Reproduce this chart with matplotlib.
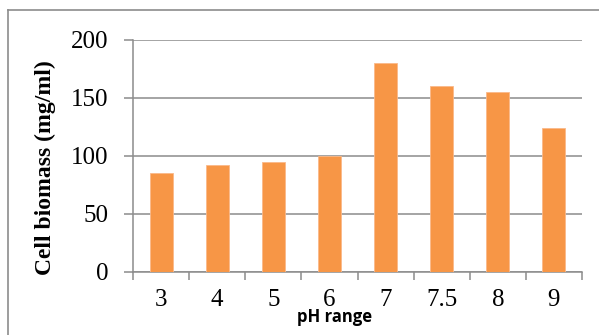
import matplotlib
matplotlib.use("Agg")
import matplotlib.pyplot as plt
from matplotlib.lines import Line2D
import numpy as np

categories = ["3", "4", "5", "6", "7", "7.5", "8", "9"]
values = [85, 92, 95, 100, 180, 160, 155, 124]
yticks = [0, 50, 100, 150, 200]

W, H = 599, 335
fig = plt.figure(figsize=(W / 100, H / 100), dpi=100)
ax = fig.add_axes([133 / W, (H - 272) / H, (582 - 133) / W, (272 - 40) / H])

x = np.arange(len(categories))
ax.bar(x, values, width=0.41, color="#F79646", edgecolor="#FAB98A", linewidth=0.6, zorder=3)

ax.set_xlim(-0.5, len(categories) - 0.5)
ax.set_ylim(0, 200)
ax.set_yticks(yticks)
ax.set_yticklabels([str(v) for v in yticks], fontfamily="Liberation Serif", fontsize=18)
ax.set_xticks(x)
ax.set_xticklabels(categories, fontfamily="Liberation Serif", fontsize=18)
ax.set_xticks(np.arange(len(categories) + 1) - 0.5, minor=True)

grid_c = "#8C8C8C"
ax.grid(axis="y", color=grid_c, linewidth=1.1, zorder=0)
for s in ["top", "right"]:
    ax.spines[s].set_visible(False)
ax.spines["left"].set_color(grid_c)
ax.spines["bottom"].set_color(grid_c)
ax.spines["left"].set_linewidth(1.1)
ax.spines["bottom"].set_linewidth(1.1)
ax.tick_params(axis="y", length=6.5, color=grid_c, width=1.1, pad=11)
ax.tick_params(axis="x", which="major", length=0, pad=12)
ax.tick_params(axis="x", which="minor", length=6, color=grid_c, width=1.1)

fig.text(45 / W, 1 - 168 / H, "Cell biomass (mg/ml)", rotation=90, ha="center", va="center",
         fontfamily="Liberation Serif", fontweight="bold", fontsize=17)
fig.text(335 / W, 1 - 317 / H, "pH range", ha="center", va="center",
         fontfamily="Open Sans", fontweight="bold", fontsize=12)

border_c = "#8C8C8C"
fig.add_artist(Line2D([8 / W, 8 / W], [0, 1 - 10 / H], transform=fig.transFigure, color=border_c, linewidth=1.2))
fig.add_artist(Line2D([8 / W, 1], [1 - 10 / H, 1 - 10 / H], transform=fig.transFigure, color=border_c, linewidth=1.2))

fig.savefig("out.png", dpi=100)
